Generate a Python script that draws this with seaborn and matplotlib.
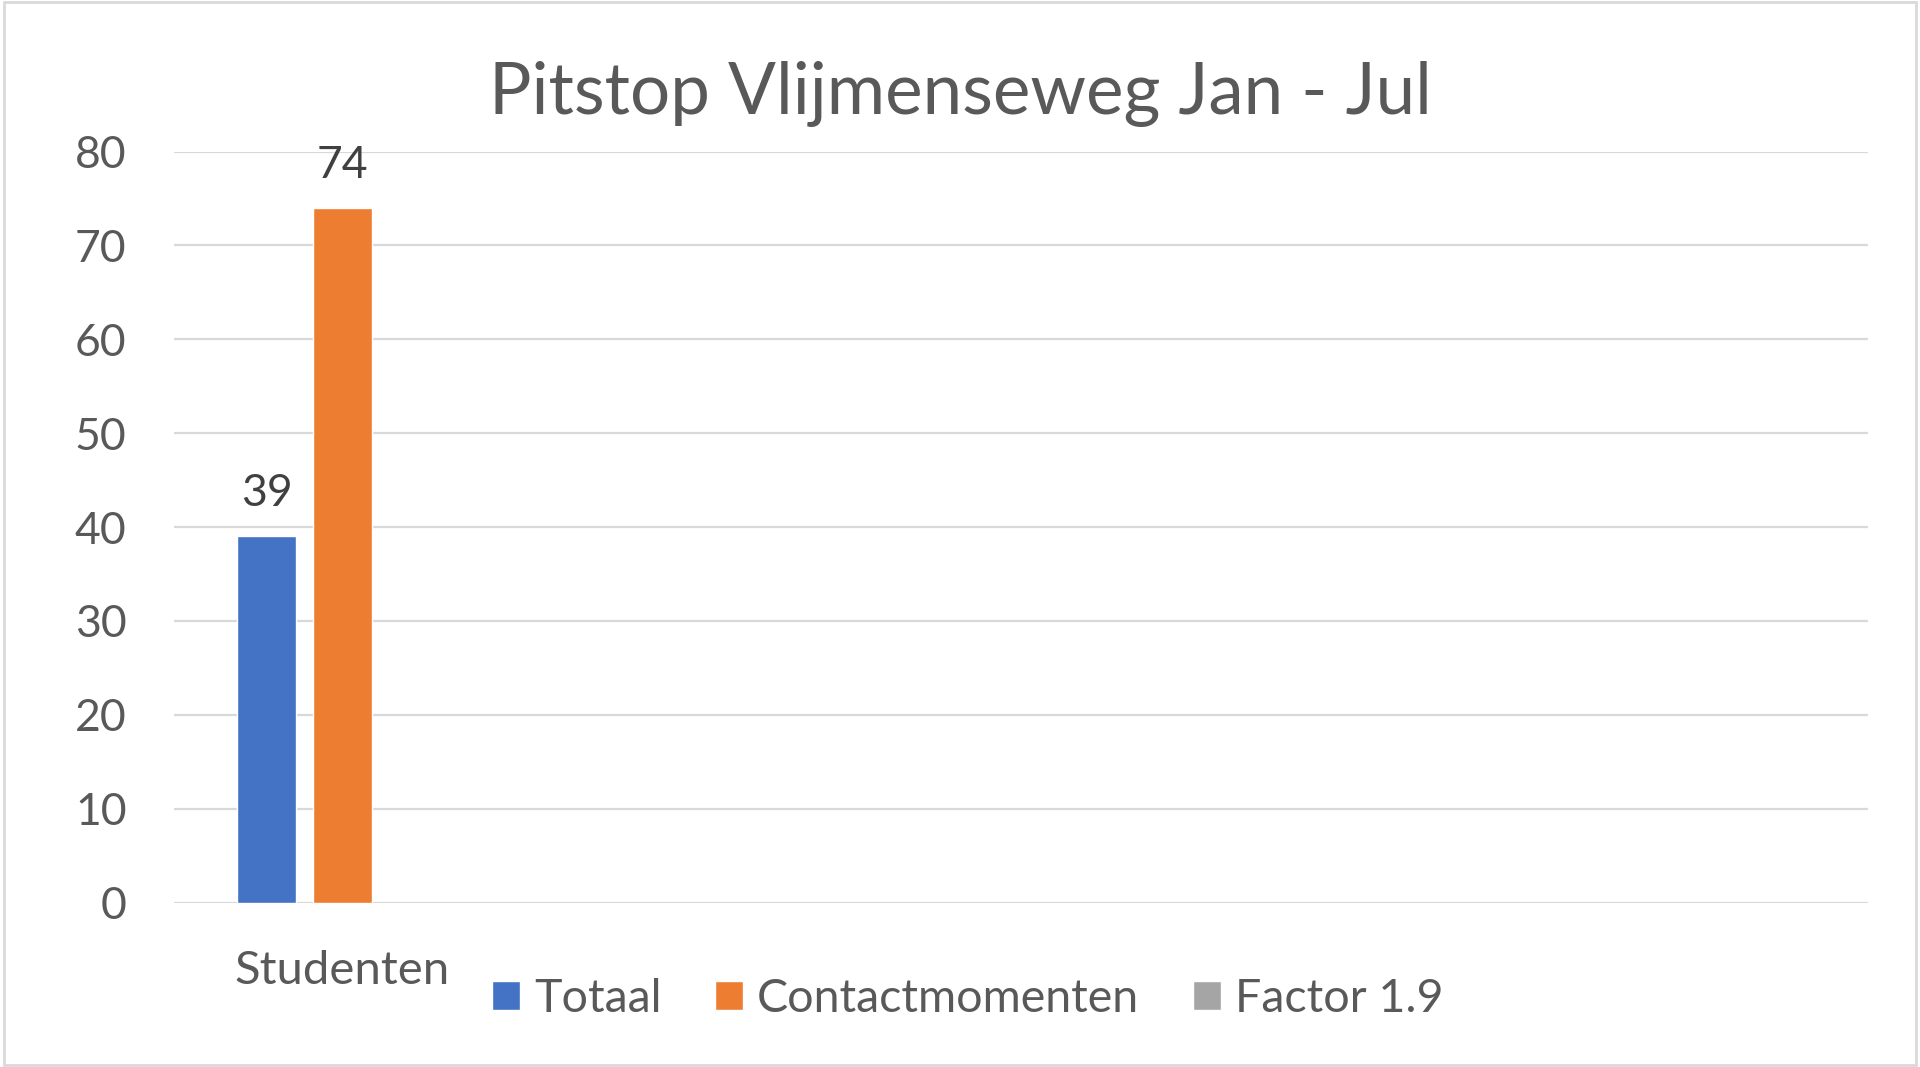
import matplotlib
matplotlib.use("Agg")
import matplotlib.pyplot as plt
import numpy as np
import pandas as pd
import seaborn as sns
from matplotlib.patches import Rectangle

TITLE = "Pitstop Vlijmenseweg Jan - Jul"
CATEGORIES = ["Studenten"]
SERIES = ["Totaal", "Contactmomenten", "Factor 1.9"]
VALUES = [39, 74, np.nan]
COLORS = ["#4472C4", "#ED7D31", "#A5A5A5"]
Y_TICKS = [0, 10, 20, 30, 40, 50, 60, 70, 80]

df = pd.DataFrame(
    {
        "categorie": CATEGORIES * len(SERIES),
        "reeks": SERIES,
        "aantal": VALUES,
    }
)

sns.set_theme(style="white")
plt.rcParams["font.family"] = ["Lato", "DejaVu Sans"]

fig = plt.figure(figsize=(19.2, 10.67), dpi=100)
ax = fig.add_axes([0.0905, 0.154, 0.8825, 0.704])

sns.barplot(
    data=df,
    x="categorie",
    y="aantal",
    hue="reeks",
    hue_order=SERIES,
    palette=COLORS,
    width=0.7,
    gap=0.23,
    saturation=1,
    ax=ax,
    legend=True,
)

ax.set_xlim(-0.518, 4.682)
ax.set_ylim(0, 80)
ax.set_yticks(Y_TICKS)
ax.set_xlabel("")
ax.set_ylabel("")
ax.grid(axis="y", color="#D9D9D9", linewidth=1.6)
ax.set_axisbelow(True)
for s in ax.spines.values():
    s.set_visible(False)
ax.tick_params(axis="y", length=0, pad=34, labelsize=32, labelcolor="#595959")
ax.tick_params(axis="x", length=0, pad=34, labelsize=34, labelcolor="#595959")

for cont in ax.containers:
    ax.bar_label(cont, fmt="%g", padding=16, fontsize=32, color="#404040")

handles, labels = ax.get_legend_handles_labels()
ax.get_legend().remove()
fig.legend(
    handles,
    labels,
    loc="center",
    bbox_to_anchor=(0.504, 0.064),
    ncol=3,
    frameon=False,
    fontsize=33.5,
    labelcolor="#595959",
    handlelength=0.6,
    handleheight=0.6,
    handletextpad=0.3,
    columnspacing=1.15,
)

fig.text(0.5, 0.912, TITLE, ha="center", va="center", fontsize=51, color="#595959")

fig.patches.append(
    Rectangle((0.002, 0.002), 0.996, 0.996, transform=fig.transFigure,
              fill=False, edgecolor="#D9D9D9", linewidth=2)
)

fig.savefig("out.png", dpi=100, facecolor="white")
